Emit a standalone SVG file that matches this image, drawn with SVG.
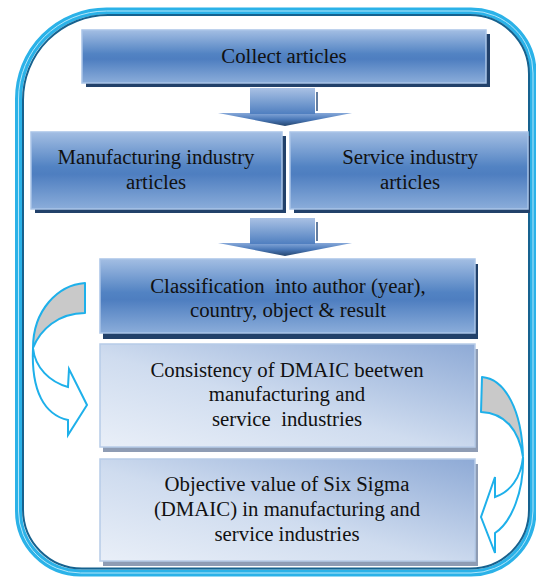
<svg xmlns="http://www.w3.org/2000/svg" width="536" height="581" viewBox="0 0 536 581">
  <defs>
    <linearGradient id="gDark" x1="0" y1="0" x2="0" y2="1">
      <stop offset="0" stop-color="#a3bee3"/>
      <stop offset="0.45" stop-color="#5283c3"/>
      <stop offset="0.55" stop-color="#4e7ec0"/>
      <stop offset="1" stop-color="#8badda"/>
    </linearGradient>
    <linearGradient id="gLight" x1="0" y1="1" x2="1" y2="0">
      <stop offset="0" stop-color="#e9eff8"/>
      <stop offset="0.45" stop-color="#cfdcef"/>
      <stop offset="1" stop-color="#8eaad6"/>
    </linearGradient>
    <linearGradient id="gShaft" x1="0" y1="0" x2="0" y2="1">
      <stop offset="0" stop-color="#a9c1e4"/>
      <stop offset="1" stop-color="#4f7fc0"/>
    </linearGradient>
    <linearGradient id="gHead" x1="0" y1="0" x2="0" y2="1">
      <stop offset="0" stop-color="#86a8d9"/>
      <stop offset="0.5" stop-color="#4a78b8"/>
      <stop offset="1" stop-color="#25466f"/>
    </linearGradient>
    <g id="downArrow">
      <polygon points="-67,0 67,0 0,13" fill="url(#gHead)"/>
      <rect x="-35" y="-25" width="65" height="26" fill="url(#gShaft)"/>
      <line x1="32" y1="-21" x2="32" y2="-2" stroke="#2f5280" stroke-width="1.5"/>
    </g>
  </defs>
  <style>
    .box-dark { fill: url(#gDark); stroke: #a9c4e7; stroke-width: 1.5; }
    .box-light { fill: url(#gLight); stroke: #b7cbe8; stroke-width: 1.5; }
    .shadow-dark { fill: #22416a; }
    .shadow-light { fill: #8e9cb4; }
    .label { font-family: "Liberation Serif", "Times New Roman", serif; font-size: 20.8px; fill: #111111; text-anchor: middle; white-space: pre; }
    .curve-back { fill: #c9c9c9; stroke: #1eb0ea; stroke-width: 2; stroke-linejoin: round; }
    .curve-front { fill: #ffffff; stroke: #1eb0ea; stroke-width: 2; stroke-linejoin: miter; }
  </style>

  <rect width="536" height="581" fill="#ffffff"/>

  <!-- rounded outer frame -->
  <g id="frame" fill="none">
    <path d="M106.5,11 H471 A62 62 0 0 1 533,73 V511 A62 62 0 0 1 471,573 H80.5 A62 62 0 0 1 18.5,511 V99 A88 88 0 0 1 106.5,11 Z" stroke="#2bb2e8" stroke-width="7"/>
    <path d="M106.5,11 H471 A62 62 0 0 1 533,73 V511 A62 62 0 0 1 471,573 H80.5 A62 62 0 0 1 18.5,511 V99 A88 88 0 0 1 106.5,11 Z" stroke="#b2e6fa" stroke-width="1"/>
    <path d="M108,15 H470 A59 59 0 0 1 529,74 V510 A58.5 58.5 0 0 1 470.5,568.5 H82 A59 59 0 0 1 23,509.5 V100 A85 85 0 0 1 108,15 Z" stroke="#16628f" stroke-width="2"/>
  </g>

  <g id="collect">
    <rect class="shadow-dark" x="86" y="34" width="404" height="53"/>
    <rect class="box-dark" x="82" y="30" width="404" height="53"/>
    <text class="label" x="284" y="63">Collect articles</text>
  </g>

  <g id="manufacturing">
    <rect class="shadow-dark" x="35" y="136" width="251" height="77"/>
    <rect class="box-dark" x="31" y="132" width="251" height="77"/>
    <text class="label" x="156" y="164">Manufacturing industry</text>
    <text class="label" x="156" y="189">articles</text>
  </g>

  <g id="service">
    <rect class="shadow-dark" x="294" y="136" width="236" height="77"/>
    <rect class="box-dark" x="290" y="132" width="238" height="77"/>
    <text class="label" x="410" y="164">Service industry</text>
    <text class="label" x="410" y="189">articles</text>
  </g>

  <g id="classification">
    <rect class="shadow-dark" x="103" y="264" width="375" height="75"/>
    <rect class="box-dark" x="100" y="259" width="375" height="74"/>
    <text class="label" x="288" y="293">Classification  into author (year),</text>
    <text class="label" x="288" y="317">country, object &amp; result</text>
  </g>

  <g id="consistency">
    <rect class="shadow-light" x="103" y="349" width="375" height="103"/>
    <rect class="box-light" x="100" y="344" width="375" height="103"/>
    <text class="label" x="287" y="377">Consistency of DMAIC beetwen</text>
    <text class="label" x="287" y="401">manufacturing and</text>
    <text class="label" x="287" y="426">service  industries</text>
  </g>

  <g id="objective">
    <rect class="shadow-light" x="103" y="464" width="375" height="102"/>
    <rect class="box-light" x="100" y="459" width="375" height="102"/>
    <text class="label" x="287" y="491">Objective value of Six Sigma</text>
    <text class="label" x="287" y="516">(DMAIC) in manufacturing and</text>
    <text class="label" x="287" y="541">service industries</text>
  </g>

  <g id="connectors">
    <use href="#downArrow" x="285" y="113"/>
    <use href="#downArrow" x="285" y="243"/>

    <!-- curved arrow on the left, pointing right -->
    <path class="curve-back" d="M85,283 C58,285 33,310 33,348 C40,330 58,313 85,313 Z"/>
    <path class="curve-front" d="M33,348 C35,368 50,382 68,387 L69,369 L87,405 L68,435 L68,420 C45,415 31,392 33,348 Z"/>

    <!-- curved arrow on the right, pointing left -->
    <path class="curve-back" d="M482,377 C505,379 522,410 523,457 C519,430 505,413 481,412 Z"/>
    <path class="curve-front" d="M523,457 C524,490 512,522 495,533 L495,553 L481,517 L495,477 L495,497 C510,492 521,478 523,457 Z"/>
  </g>
</svg>
